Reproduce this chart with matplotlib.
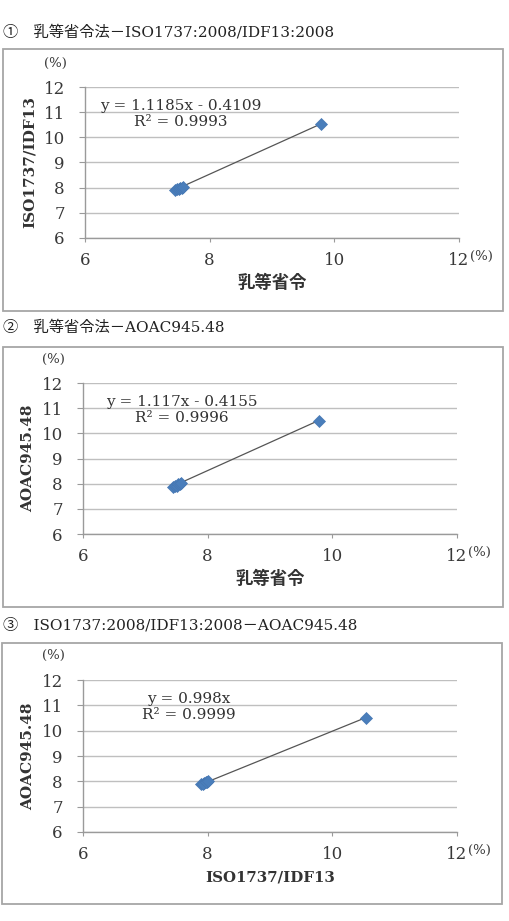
import matplotlib.pyplot as plt
from matplotlib.patches import Rectangle

plt.rcParams['font.family'] = ['DejaVu Serif', 'Noto Sans CJK JP']

shourei = [7.45, 7.48, 7.50, 7.53, 7.55, 7.58, 9.78]      # 乳等省令
iso = [7.90, 7.94, 7.93, 7.99, 7.97, 8.01, 10.54]         # ISO1737/IDF13
aoac = [7.88, 7.92, 7.91, 7.97, 7.99, 8.02, 10.50]        # AOAC945.48

titles = ['①　乳等省令法－ISO1737:2008/IDF13:2008',
          '②　乳等省令法－AOAC945.48',
          '③　ISO1737:2008/IDF13:2008－AOAC945.48']
xlabels = ['乳等省令', '乳等省令', 'ISO1737/IDF13']
xlabel_size = [12.5, 12.5, 10.8]
ylabels = ['ISO1737/IDF13', 'AOAC945.48', 'AOAC945.48']
xdata = [shourei, shourei, iso]
ydata = [iso, aoac, aoac]
slopes = [1.1185, 1.117, 0.998]
intercepts = [-0.4109, -0.4155, 0.0]
eq_text = ['y = 1.1185x - 0.4109\nR² = 0.9993',
           'y = 1.117x - 0.4155\nR² = 0.9996',
           'y = 0.998x\nR² = 0.9999']
eq_pos = [(7.54, 10.93), (7.58, 10.93), (7.70, 10.93)]

W, H = 510, 921
fig = plt.figure(figsize=(W / 100, H / 100), dpi=100)

# pixel layout: heading y, box (x0, y0, x1, y1), axes (x0, y0, x1, y1)
heads = [32, 328, 625]
boxes = [(3, 49, 503, 311), (3, 347, 503, 607), (2, 643, 502, 904)]
axbox = [(85, 87, 459, 238), (83, 383, 457, 534), (83, 680, 457, 832)]

for i in range(3):
    fig.text(3 / W, 1 - heads[i] / H, titles[i], fontsize=11, va='center', ha='left',
             color='#222222')
    bx0, by0, bx1, by1 = boxes[i]
    fig.patches.append(Rectangle((bx0 / W, 1 - by1 / H), (bx1 - bx0) / W, (by1 - by0) / H,
                                 transform=fig.transFigure, fill=False,
                                 edgecolor='#a6a6a6', linewidth=1.3))

    x0, y0, x1, y1 = axbox[i]
    ax = fig.add_axes([x0 / W, 1 - y1 / H, (x1 - x0) / W, (y1 - y0) / H])
    ax.set_xlim(6, 12)
    ax.set_ylim(6, 12)
    ax.set_xticks([6, 8, 10, 12])
    ax.set_yticks(range(6, 13))
    ax.grid(axis='y', color='#bfbfbf', linewidth=1)
    ax.set_axisbelow(True)
    for s in ['top', 'right']:
        ax.spines[s].set_visible(False)
    for s in ['left', 'bottom']:
        ax.spines[s].set_color('#9a9a9a')
        ax.spines[s].set_linewidth(1)
    ax.tick_params(axis='y', length=4.5, color='#9a9a9a', pad=10, labelsize=12, labelcolor='#383838')
    ax.tick_params(axis='x', length=3, color='#9a9a9a', pad=7, labelsize=12, labelcolor='#383838')

    xs = xdata[i]
    lo, hi = min(xs), max(xs)
    ax.plot([lo, hi], [slopes[i] * lo + intercepts[i], slopes[i] * hi + intercepts[i]],
            color='#555555', linewidth=0.9, zorder=2)
    ax.plot(xs, ydata[i], 'D', color='#4a7ebb', markersize=6.5, markeredgecolor='#4677b3',
            markeredgewidth=0.5, zorder=3)

    ax.text(eq_pos[i][0], eq_pos[i][1], eq_text[i], fontsize=11, ha='center', va='center',
            multialignment='center', linespacing=1.25, color='#333333')

    ax.set_xlabel(xlabels[i], fontsize=xlabel_size[i], fontweight='bold', color='#333333')
    ax.set_ylabel(ylabels[i], fontsize=11, fontweight='bold', color='#333333')
    ax.xaxis.set_label_coords(0.5, -0.30)
    ax.xaxis.label.set_va('center')
    ax.yaxis.set_label_coords(-0.147, 0.5)
    ax.yaxis.label.set_va('center')

    ax.text(-0.078, 1.159, '(%)', transform=ax.transAxes, fontsize=9.5, ha='center', va='center',
            color='#383838')
    ax.text(1.06, -0.12, '(%)', transform=ax.transAxes, fontsize=9.5, ha='center', va='center',
            color='#383838')

fig.savefig('out.png', dpi=100)
